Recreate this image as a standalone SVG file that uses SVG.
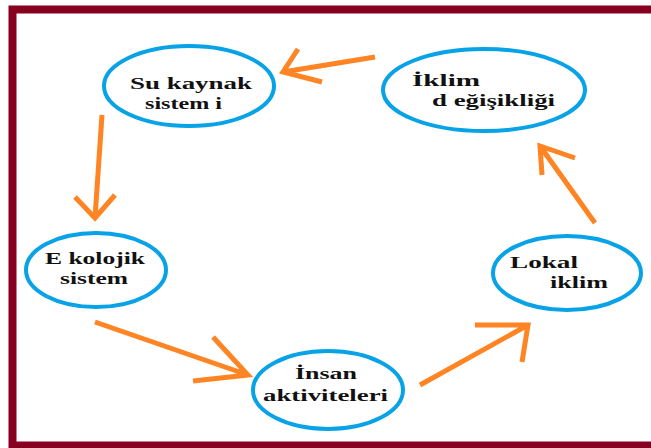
<svg xmlns="http://www.w3.org/2000/svg" width="651" height="448" viewBox="0 0 651 448">
<defs>
<style>
.frame{fill:none;stroke:#880020;stroke-width:8}
.node{fill:#fff;stroke:#08A2E6;stroke-width:4}
.lbl{font-family:"Liberation Serif","Times New Roman",serif;font-weight:bold;font-size:17px;fill:#111}
.arr{fill:none;stroke:#FF8424;stroke-width:5;stroke-linecap:butt;stroke-linejoin:miter}
</style>
</defs>
<rect x="0" y="0" width="651" height="448" fill="#fff"/>
<rect class="frame" x="12.5" y="9.5" width="700" height="436"/>
<g id="connectors">
<path class="arr" d="M375,57 L283,72 M298,49 L283,72 L322,82"/>
<path class="arr" d="M102,115 L95,218 M75,197 L95,218 L115,195"/>
<path class="arr" d="M95,322 L248,375 M213,337 L248,375 L193,381"/>
<path class="arr" d="M420,385 L528,325 M475,325 L528,325 L522,362"/>
<path class="arr" d="M595,223 L540,146 M575,158 L540,146 L542,175"/>
</g>
<g id="su-kaynak">
<ellipse class="node" cx="189" cy="86" rx="85" ry="40"/>
<text class="lbl" x="130" y="89" textLength="122" lengthAdjust="spacingAndGlyphs">Su kaynak</text>
<text class="lbl" x="145" y="109" textLength="77" lengthAdjust="spacingAndGlyphs">sistem i</text>
</g>
<g id="iklim-degisikligi">
<ellipse class="node" cx="484" cy="90" rx="101" ry="41"/>
<text class="lbl" x="412" y="86" textLength="68" lengthAdjust="spacingAndGlyphs">İklim</text>
<text class="lbl" x="432" y="106" textLength="123" lengthAdjust="spacingAndGlyphs">d eğişikliği</text>
</g>
<g id="ekolojik-sistem">
<ellipse class="node" cx="96" cy="270" rx="70" ry="37"/>
<text class="lbl" x="45" y="264" textLength="100" lengthAdjust="spacingAndGlyphs">E kolojik</text>
<text class="lbl" x="60" y="284" textLength="68" lengthAdjust="spacingAndGlyphs">sistem</text>
</g>
<g id="lokal-iklim">
<ellipse class="node" cx="567" cy="273" rx="74" ry="37"/>
<text class="lbl" x="510" y="268" textLength="68" lengthAdjust="spacingAndGlyphs">Lokal</text>
<text class="lbl" x="550" y="288" textLength="58" lengthAdjust="spacingAndGlyphs">iklim</text>
</g>
<g id="insan-aktiviteleri">
<ellipse class="node" cx="328" cy="390" rx="75" ry="39"/>
<text class="lbl" x="295" y="379" textLength="62" lengthAdjust="spacingAndGlyphs">İnsan</text>
<text class="lbl" x="263" y="401" textLength="125" lengthAdjust="spacingAndGlyphs">aktiviteleri</text>
</g>
</svg>
